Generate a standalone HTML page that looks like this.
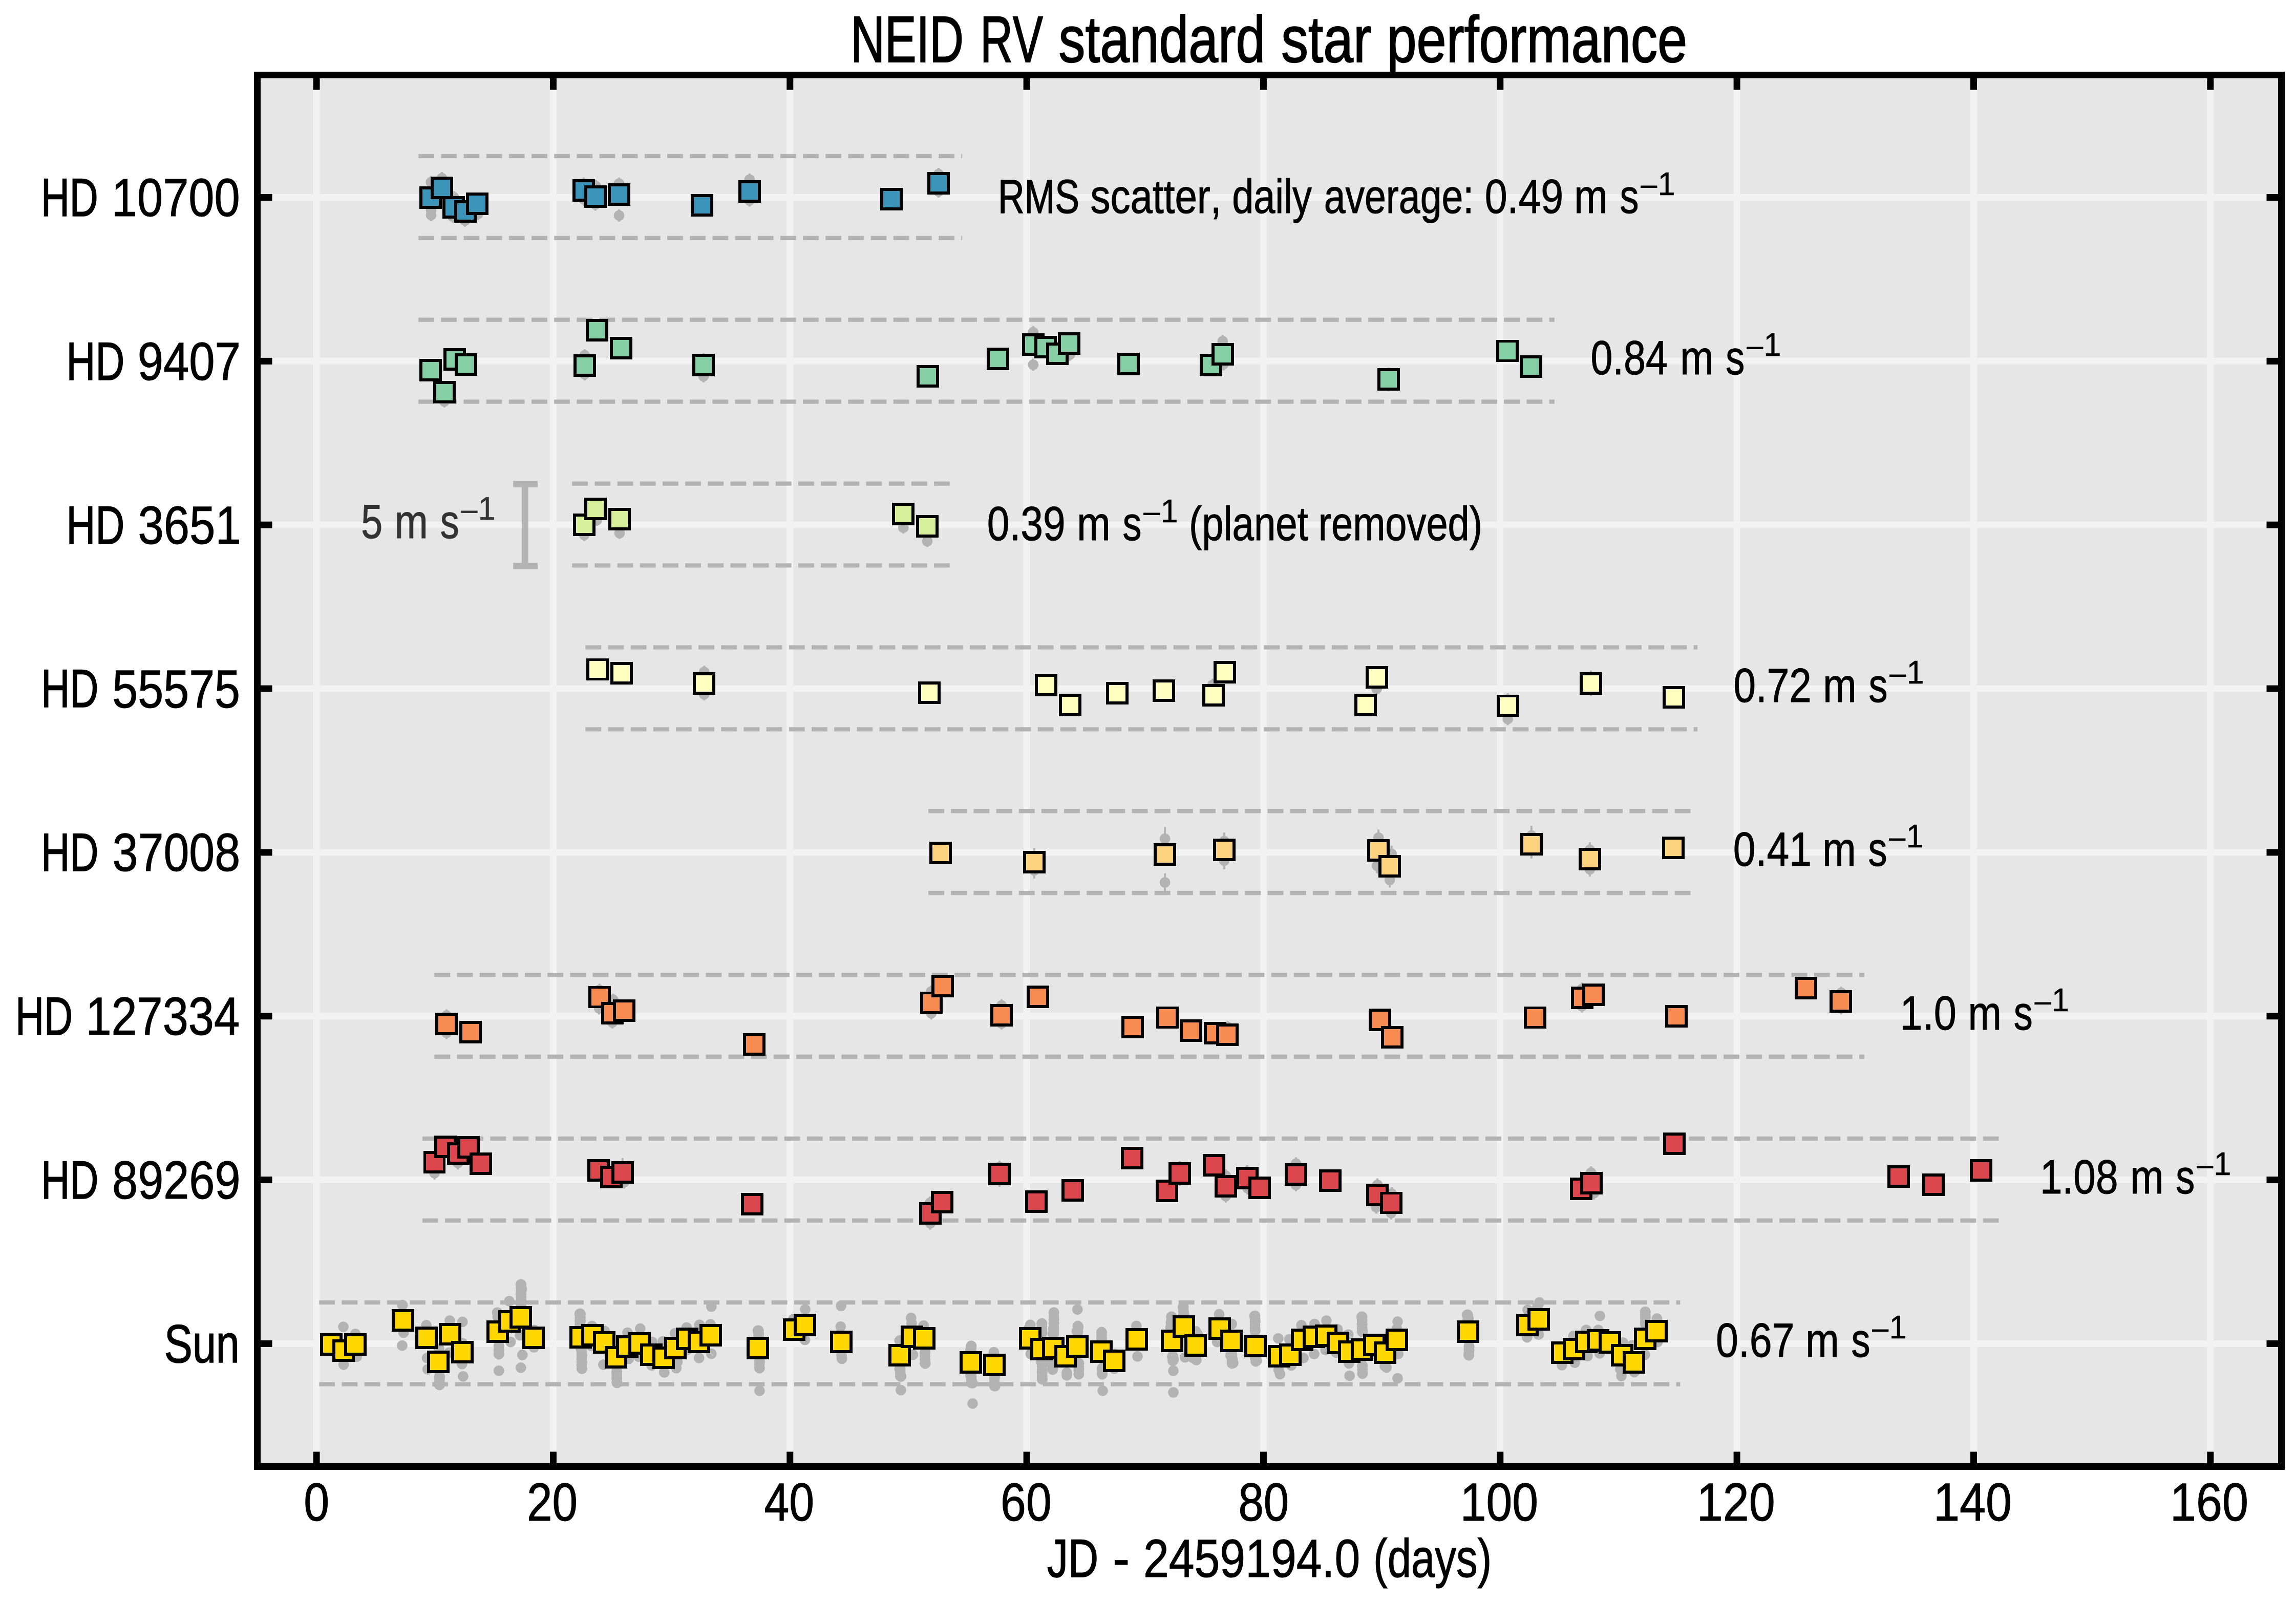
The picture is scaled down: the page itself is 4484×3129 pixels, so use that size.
<!DOCTYPE html><html><head><meta charset="utf-8"><title>NEID RV standard star performance</title><style>html,body{margin:0;padding:0;background:#fff}svg{display:block}</style></head><body><svg width="4484" height="3129" viewBox="0 0 4484 3129" font-family='"Liberation Sans", sans-serif' style="font-kerning:none" text-rendering="geometricPrecision">
<rect x="0" y="0" width="4484" height="3129" fill="#fff"/>
<rect x="502.5" y="146.5" width="3953.0" height="2718.0" fill="#e6e6e6"/>
<g stroke="#f2f2f2" stroke-width="13"><line x1="618.08" y1="146.5" x2="618.08" y2="2864.5"/><line x1="1080.42" y1="146.5" x2="1080.42" y2="2864.5"/><line x1="1542.76" y1="146.5" x2="1542.76" y2="2864.5"/><line x1="2005.10" y1="146.5" x2="2005.10" y2="2864.5"/><line x1="2467.44" y1="146.5" x2="2467.44" y2="2864.5"/><line x1="2929.78" y1="146.5" x2="2929.78" y2="2864.5"/><line x1="3392.12" y1="146.5" x2="3392.12" y2="2864.5"/><line x1="3854.46" y1="146.5" x2="3854.46" y2="2864.5"/><line x1="4316.80" y1="146.5" x2="4316.80" y2="2864.5"/><line x1="502.5" y1="2624.40" x2="4455.5" y2="2624.40"/><line x1="502.5" y1="2304.56" x2="4455.5" y2="2304.56"/><line x1="502.5" y1="1984.72" x2="4455.5" y2="1984.72"/><line x1="502.5" y1="1664.88" x2="4455.5" y2="1664.88"/><line x1="502.5" y1="1345.04" x2="4455.5" y2="1345.04"/><line x1="502.5" y1="1025.20" x2="4455.5" y2="1025.20"/><line x1="502.5" y1="705.36" x2="4455.5" y2="705.36"/><line x1="502.5" y1="385.52" x2="4455.5" y2="385.52"/></g>
<g stroke="#b3b3b3" stroke-width="8.33" stroke-dasharray="30.83 13.34" fill="none"><line x1="623.3" y1="2543.8" x2="3281.3" y2="2543.8"/><line x1="623.3" y1="2703.6" x2="3281.3" y2="2703.6"/><line x1="824.9" y1="2223.9" x2="3915.0" y2="2223.9"/><line x1="824.9" y1="2383.8" x2="3915.0" y2="2383.8"/><line x1="848.4" y1="1904.1" x2="3641.0" y2="1904.1"/><line x1="848.4" y1="2064.0" x2="3641.0" y2="2064.0"/><line x1="1813.1" y1="1584.2" x2="3314.1" y2="1584.2"/><line x1="1813.1" y1="1744.1" x2="3314.1" y2="1744.1"/><line x1="1143.3" y1="1264.4" x2="3315.1" y2="1264.4"/><line x1="1143.3" y1="1424.3" x2="3315.1" y2="1424.3"/><line x1="1117.3" y1="944.6" x2="1857.1" y2="944.6"/><line x1="1117.3" y1="1104.4" x2="1857.1" y2="1104.4"/><line x1="817.1" y1="624.7" x2="3035.8" y2="624.7"/><line x1="817.1" y1="784.6" x2="3035.8" y2="784.6"/><line x1="817.2" y1="304.9" x2="1879.2" y2="304.9"/><line x1="817.2" y1="464.8" x2="1879.2" y2="464.8"/></g>
<g fill="#b3b3b3" stroke="#b3b3b3" stroke-width="4"><line x1="841.7" y1="343.8" x2="841.7" y2="367.8"/><circle cx="841.7" cy="355.8" r="10.4" stroke="none"/><line x1="863.0" y1="336.0" x2="863.0" y2="360.0"/><circle cx="863.0" cy="348.0" r="10.4" stroke="none"/><line x1="842.0" y1="399.0" x2="842.0" y2="423.0"/><circle cx="842.0" cy="411.0" r="10.4" stroke="none"/><line x1="842.0" y1="408.2" x2="842.0" y2="432.2"/><circle cx="842.0" cy="420.2" r="10.4" stroke="none"/><line x1="886.2" y1="373.2" x2="886.2" y2="397.2"/><circle cx="886.2" cy="385.2" r="10.4" stroke="none"/><line x1="884.5" y1="411.5" x2="884.5" y2="435.5"/><circle cx="884.5" cy="423.5" r="10.4" stroke="none"/><line x1="908.0" y1="419.0" x2="908.0" y2="443.0"/><circle cx="908.0" cy="431.0" r="10.4" stroke="none"/><line x1="934.0" y1="405.6" x2="934.0" y2="429.6"/><circle cx="934.0" cy="417.6" r="10.4" stroke="none"/><line x1="1140.0" y1="346.6" x2="1140.0" y2="370.6"/><circle cx="1140.0" cy="358.6" r="10.4" stroke="none"/><line x1="1140.0" y1="377.6" x2="1140.0" y2="401.6"/><circle cx="1140.0" cy="389.6" r="10.4" stroke="none"/><line x1="1164.0" y1="352.0" x2="1164.0" y2="376.0"/><circle cx="1164.0" cy="364.0" r="10.4" stroke="none"/><line x1="1162.7" y1="387.4" x2="1162.7" y2="411.4"/><circle cx="1162.7" cy="399.4" r="10.4" stroke="none"/><line x1="1209.0" y1="346.6" x2="1209.0" y2="370.6"/><circle cx="1209.0" cy="358.6" r="10.4" stroke="none"/><line x1="1209.0" y1="409.0" x2="1209.0" y2="433.0"/><circle cx="1209.0" cy="421.0" r="10.4" stroke="none"/><line x1="1370.9" y1="380.0" x2="1370.9" y2="404.0"/><circle cx="1370.9" cy="392.0" r="10.4" stroke="none"/><line x1="1463.8" y1="338.8" x2="1463.8" y2="362.8"/><circle cx="1463.8" cy="350.8" r="10.4" stroke="none"/><line x1="1463.8" y1="379.5" x2="1463.8" y2="403.5"/><circle cx="1463.8" cy="391.5" r="10.4" stroke="none"/><line x1="1833.0" y1="328.0" x2="1833.0" y2="352.0"/><circle cx="1833.0" cy="340.0" r="10.4" stroke="none"/><line x1="1833.0" y1="362.0" x2="1833.0" y2="386.0"/><circle cx="1833.0" cy="374.0" r="10.4" stroke="none"/><line x1="1740.9" y1="377.0" x2="1740.9" y2="401.0"/><circle cx="1740.9" cy="389.0" r="10.4" stroke="none"/><line x1="1141.8" y1="682.0" x2="1141.8" y2="706.0"/><circle cx="1141.8" cy="694.0" r="10.4" stroke="none"/><line x1="1141.8" y1="719.0" x2="1141.8" y2="743.0"/><circle cx="1141.8" cy="731.0" r="10.4" stroke="none"/><line x1="1373.9" y1="689.0" x2="1373.9" y2="713.0"/><circle cx="1373.9" cy="701.0" r="10.4" stroke="none"/><line x1="1373.9" y1="722.8" x2="1373.9" y2="746.8"/><circle cx="1373.9" cy="734.8" r="10.4" stroke="none"/><line x1="867.8" y1="771.8" x2="867.8" y2="795.8"/><circle cx="867.8" cy="783.8" r="10.4" stroke="none"/><line x1="2017.9" y1="636.8" x2="2017.9" y2="660.8"/><circle cx="2017.9" cy="648.8" r="10.4" stroke="none"/><line x1="2017.9" y1="700.3" x2="2017.9" y2="724.3"/><circle cx="2017.9" cy="712.3" r="10.4" stroke="none"/><line x1="2089.6" y1="680.7" x2="2089.6" y2="704.7"/><circle cx="2089.6" cy="692.7" r="10.4" stroke="none"/><line x1="2387.9" y1="654.4" x2="2387.9" y2="678.4"/><circle cx="2387.9" cy="666.4" r="10.4" stroke="none"/><line x1="2389.5" y1="699.5" x2="2389.5" y2="723.5"/><circle cx="2389.5" cy="711.5" r="10.4" stroke="none"/><line x1="2711.7" y1="717.9" x2="2711.7" y2="763.9"/><circle cx="2711.7" cy="740.9" r="10.4" stroke="none"/><line x1="2989.6" y1="714.0" x2="2989.6" y2="738.0"/><circle cx="2989.6" cy="726.0" r="10.4" stroke="none"/><line x1="840.8" y1="710.9" x2="840.8" y2="734.9"/><circle cx="840.8" cy="722.9" r="10.4" stroke="none"/><line x1="1165.7" y1="632.9" x2="1165.7" y2="656.9"/><circle cx="1165.7" cy="644.9" r="10.4" stroke="none"/><line x1="1165.7" y1="1004.3" x2="1165.7" y2="1027.3"/><circle cx="1165.7" cy="1015.8" r="10.4" stroke="none"/><line x1="1210.0" y1="1029.8" x2="1210.0" y2="1052.8"/><circle cx="1210.0" cy="1041.3" r="10.4" stroke="none"/><line x1="1141.0" y1="1033.5" x2="1141.0" y2="1056.5"/><circle cx="1141.0" cy="1045.0" r="10.4" stroke="none"/><line x1="1764.2" y1="1019.2" x2="1764.2" y2="1042.2"/><circle cx="1764.2" cy="1030.7" r="10.4" stroke="none"/><line x1="1810.9" y1="1045.5" x2="1810.9" y2="1068.5"/><circle cx="1810.9" cy="1057.0" r="10.4" stroke="none"/><line x1="1162.9" y1="978.5" x2="1162.9" y2="1001.5"/><circle cx="1162.9" cy="990.0" r="10.4" stroke="none"/><line x1="1375.2" y1="1300.3" x2="1375.2" y2="1324.3"/><circle cx="1375.2" cy="1312.3" r="10.4" stroke="none"/><line x1="1375.2" y1="1344.2" x2="1375.2" y2="1368.2"/><circle cx="1375.2" cy="1356.2" r="10.4" stroke="none"/><line x1="2368.0" y1="1325.8" x2="2368.0" y2="1349.8"/><circle cx="2368.0" cy="1337.8" r="10.4" stroke="none"/><line x1="2688.7" y1="1333.6" x2="2688.7" y2="1357.6"/><circle cx="2688.7" cy="1345.6" r="10.4" stroke="none"/><line x1="2944.7" y1="1392.4" x2="2944.7" y2="1416.4"/><circle cx="2944.7" cy="1404.4" r="10.4" stroke="none"/><line x1="2944.7" y1="1354.0" x2="2944.7" y2="1378.0"/><circle cx="2944.7" cy="1366.0" r="10.4" stroke="none"/><line x1="3107.0" y1="1309.7" x2="3107.0" y2="1359.7"/><circle cx="3107.0" cy="1334.7" r="10.4" stroke="none"/><line x1="2666.8" y1="1356.0" x2="2666.8" y2="1380.0"/><circle cx="2666.8" cy="1368.0" r="10.4" stroke="none"/><line x1="2275.1" y1="1615.5" x2="2275.1" y2="1660.9"/><circle cx="2275.1" cy="1638.2" r="10.4" stroke="none"/><line x1="2275.1" y1="1705.6" x2="2275.1" y2="1741.6"/><circle cx="2275.1" cy="1723.6" r="10.4" stroke="none"/><line x1="2019.9" y1="1656.0" x2="2019.9" y2="1688.0"/><circle cx="2019.9" cy="1672.0" r="10.4" stroke="none"/><line x1="2019.9" y1="1684.0" x2="2019.9" y2="1716.0"/><circle cx="2019.9" cy="1700.0" r="10.4" stroke="none"/><line x1="2390.7" y1="1626.0" x2="2390.7" y2="1660.0"/><circle cx="2390.7" cy="1643.0" r="10.4" stroke="none"/><line x1="2390.7" y1="1664.0" x2="2390.7" y2="1698.0"/><circle cx="2390.7" cy="1681.0" r="10.4" stroke="none"/><line x1="2692.1" y1="1620.2" x2="2692.1" y2="1652.2"/><circle cx="2692.1" cy="1636.2" r="10.4" stroke="none"/><line x1="2689.4" y1="1676.1" x2="2689.4" y2="1706.1"/><circle cx="2689.4" cy="1691.1" r="10.4" stroke="none"/><line x1="2717.6" y1="1651.6" x2="2717.6" y2="1683.6"/><circle cx="2717.6" cy="1667.6" r="10.4" stroke="none"/><line x1="2714.1" y1="1703.6" x2="2714.1" y2="1733.6"/><circle cx="2714.1" cy="1718.6" r="10.4" stroke="none"/><line x1="2990.8" y1="1613.0" x2="2990.8" y2="1651.0"/><circle cx="2990.8" cy="1632.0" r="10.4" stroke="none"/><line x1="2990.8" y1="1643.0" x2="2990.8" y2="1677.0"/><circle cx="2990.8" cy="1660.0" r="10.4" stroke="none"/><line x1="3104.9" y1="1645.0" x2="3104.9" y2="1675.0"/><circle cx="3104.9" cy="1660.0" r="10.4" stroke="none"/><line x1="3104.9" y1="1684.0" x2="3104.9" y2="1712.0"/><circle cx="3104.9" cy="1698.0" r="10.4" stroke="none"/><line x1="872.1" y1="1971.5" x2="872.1" y2="1995.5"/><circle cx="872.1" cy="1983.5" r="10.4" stroke="none"/><line x1="872.1" y1="2005.5" x2="872.1" y2="2029.5"/><circle cx="872.1" cy="2017.5" r="10.4" stroke="none"/><line x1="1170.8" y1="1921.3" x2="1170.8" y2="1945.3"/><circle cx="1170.8" cy="1933.3" r="10.4" stroke="none"/><line x1="1170.0" y1="1957.4" x2="1170.0" y2="1981.4"/><circle cx="1170.0" cy="1969.4" r="10.4" stroke="none"/><line x1="1197.5" y1="1940.9" x2="1197.5" y2="1964.9"/><circle cx="1197.5" cy="1952.9" r="10.4" stroke="none"/><line x1="1195.9" y1="1984.8" x2="1195.9" y2="2008.8"/><circle cx="1195.9" cy="1996.8" r="10.4" stroke="none"/><line x1="1818.0" y1="1925.2" x2="1818.0" y2="1949.2"/><circle cx="1818.0" cy="1937.2" r="10.4" stroke="none"/><line x1="1818.8" y1="1967.2" x2="1818.8" y2="1991.2"/><circle cx="1818.8" cy="1979.2" r="10.4" stroke="none"/><line x1="1956.0" y1="1951.9" x2="1956.0" y2="1975.9"/><circle cx="1956.0" cy="1963.9" r="10.4" stroke="none"/><line x1="1956.0" y1="1986.8" x2="1956.0" y2="2010.8"/><circle cx="1956.0" cy="1998.8" r="10.4" stroke="none"/><line x1="2397.3" y1="1993.8" x2="2397.3" y2="2017.8"/><circle cx="2397.3" cy="2005.8" r="10.4" stroke="none"/><line x1="3089.6" y1="1919.3" x2="3089.6" y2="1943.3"/><circle cx="3089.6" cy="1931.3" r="10.4" stroke="none"/><line x1="3089.6" y1="1953.5" x2="3089.6" y2="1977.5"/><circle cx="3089.6" cy="1965.5" r="10.4" stroke="none"/><line x1="3595.6" y1="1927.2" x2="3595.6" y2="1951.2"/><circle cx="3595.6" cy="1939.2" r="10.4" stroke="none"/><line x1="3595.6" y1="1957.4" x2="3595.6" y2="1981.4"/><circle cx="3595.6" cy="1969.4" r="10.4" stroke="none"/><line x1="2026.9" y1="1944.0" x2="2026.9" y2="1968.0"/><circle cx="2026.9" cy="1956.0" r="10.4" stroke="none"/><line x1="848.6" y1="2278.8" x2="848.6" y2="2303.8"/><circle cx="848.6" cy="2291.3" r="10.4" stroke="none"/><line x1="894.1" y1="2259.2" x2="894.1" y2="2284.2"/><circle cx="894.1" cy="2271.7" r="10.4" stroke="none"/><line x1="1215.9" y1="2262.0" x2="1215.9" y2="2298.0"/><circle cx="1215.9" cy="2280.0" r="10.4" stroke="none"/><line x1="1219.0" y1="2296.5" x2="1219.0" y2="2321.5"/><circle cx="1219.0" cy="2309.0" r="10.4" stroke="none"/><line x1="1816.0" y1="2337.0" x2="1816.0" y2="2362.0"/><circle cx="1816.0" cy="2349.5" r="10.4" stroke="none"/><line x1="1816.8" y1="2376.8" x2="1816.8" y2="2401.8"/><circle cx="1816.8" cy="2389.3" r="10.4" stroke="none"/><line x1="1952.0" y1="2267.0" x2="1952.0" y2="2292.0"/><circle cx="1952.0" cy="2279.5" r="10.4" stroke="none"/><line x1="1952.0" y1="2293.0" x2="1952.0" y2="2318.0"/><circle cx="1952.0" cy="2305.5" r="10.4" stroke="none"/><line x1="2304.0" y1="2268.0" x2="2304.0" y2="2293.0"/><circle cx="2304.0" cy="2280.5" r="10.4" stroke="none"/><line x1="2304.0" y1="2291.0" x2="2304.0" y2="2316.0"/><circle cx="2304.0" cy="2303.5" r="10.4" stroke="none"/><line x1="2393.8" y1="2284.0" x2="2393.8" y2="2309.0"/><circle cx="2393.8" cy="2296.5" r="10.4" stroke="none"/><line x1="2393.8" y1="2324.0" x2="2393.8" y2="2349.0"/><circle cx="2393.8" cy="2336.5" r="10.4" stroke="none"/><line x1="2436.0" y1="2276.0" x2="2436.0" y2="2301.0"/><circle cx="2436.0" cy="2288.5" r="10.4" stroke="none"/><line x1="2436.0" y1="2308.0" x2="2436.0" y2="2333.0"/><circle cx="2436.0" cy="2320.5" r="10.4" stroke="none"/><line x1="2531.0" y1="2260.4" x2="2531.0" y2="2285.4"/><circle cx="2531.0" cy="2272.9" r="10.4" stroke="none"/><line x1="2531.0" y1="2302.0" x2="2531.0" y2="2327.0"/><circle cx="2531.0" cy="2314.5" r="10.4" stroke="none"/><line x1="2690.1" y1="2301.6" x2="2690.1" y2="2326.6"/><circle cx="2690.1" cy="2314.1" r="10.4" stroke="none"/><line x1="2687.8" y1="2345.5" x2="2687.8" y2="2370.5"/><circle cx="2687.8" cy="2358.0" r="10.4" stroke="none"/><line x1="2717.9" y1="2319.0" x2="2717.9" y2="2344.0"/><circle cx="2717.9" cy="2331.5" r="10.4" stroke="none"/><line x1="2716.8" y1="2357.0" x2="2716.8" y2="2382.0"/><circle cx="2716.8" cy="2369.5" r="10.4" stroke="none"/><line x1="3107.2" y1="2278.0" x2="3107.2" y2="2303.0"/><circle cx="3107.2" cy="2290.5" r="10.4" stroke="none"/><line x1="3113.0" y1="2318.0" x2="3113.0" y2="2343.0"/><circle cx="3113.0" cy="2330.5" r="10.4" stroke="none"/><line x1="3269.8" y1="2214.0" x2="3269.8" y2="2239.0"/><circle cx="3269.8" cy="2226.5" r="10.4" stroke="none"/><line x1="3269.8" y1="2231.0" x2="3269.8" y2="2256.0"/><circle cx="3269.8" cy="2243.5" r="10.4" stroke="none"/><circle cx="670.6" cy="2591.6" r="10.4" stroke="none"/><circle cx="694.1" cy="2605.4" r="10.4" stroke="none"/><circle cx="671.1" cy="2665.5" r="10.4" stroke="none"/><circle cx="696.7" cy="2649.9" r="10.4" stroke="none"/><circle cx="786.1" cy="2549.2" r="10.4" stroke="none"/><circle cx="788.2" cy="2602.8" r="10.4" stroke="none"/><circle cx="785.5" cy="2628.2" r="10.4" stroke="none"/><circle cx="832.6" cy="2588.4" r="10.4" stroke="none"/><circle cx="878.3" cy="2579.3" r="10.4" stroke="none"/><circle cx="903.1" cy="2581.9" r="10.4" stroke="none"/><circle cx="833.9" cy="2652.5" r="10.4" stroke="none"/><circle cx="835.2" cy="2674.7" r="10.4" stroke="none"/><circle cx="857.4" cy="2634.2" r="10.4" stroke="none"/><circle cx="858.7" cy="2689.1" r="10.4" stroke="none"/><circle cx="858.2" cy="2704.7" r="10.4" stroke="none"/><circle cx="903.1" cy="2623.7" r="10.4" stroke="none"/><circle cx="902.3" cy="2664.2" r="10.4" stroke="none"/><circle cx="904.4" cy="2688.3" r="10.4" stroke="none"/><circle cx="877.0" cy="2642.0" r="10.4" stroke="none"/><circle cx="971.1" cy="2563.6" r="10.4" stroke="none"/><circle cx="972.0" cy="2572.0" r="10.4" stroke="none"/><circle cx="974.2" cy="2629.0" r="10.4" stroke="none"/><circle cx="974.2" cy="2644.1" r="10.4" stroke="none"/><circle cx="974.2" cy="2677.3" r="10.4" stroke="none"/><circle cx="994.6" cy="2541.4" r="10.4" stroke="none"/><circle cx="997.2" cy="2621.1" r="10.4" stroke="none"/><circle cx="1017.3" cy="2508.7" r="10.4" stroke="none"/><circle cx="1018.9" cy="2517.9" r="10.4" stroke="none"/><circle cx="1017.3" cy="2527.6" r="10.4" stroke="none"/><circle cx="1017.3" cy="2545.3" r="10.4" stroke="none"/><circle cx="1015.5" cy="2608.0" r="10.4" stroke="none"/><circle cx="1020.2" cy="2646.5" r="10.4" stroke="none"/><circle cx="1017.3" cy="2671.3" r="10.4" stroke="none"/><circle cx="1042.9" cy="2597.6" r="10.4" stroke="none"/><circle cx="1042.9" cy="2631.6" r="10.4" stroke="none"/><circle cx="1132.1" cy="2566.2" r="10.4" stroke="none"/><circle cx="1132.7" cy="2579.3" r="10.4" stroke="none"/><circle cx="1133.5" cy="2592.0" r="10.4" stroke="none"/><circle cx="1134.5" cy="2634.0" r="10.4" stroke="none"/><circle cx="1136.6" cy="2647.2" r="10.4" stroke="none"/><circle cx="1136.6" cy="2660.3" r="10.4" stroke="none"/><circle cx="1136.6" cy="2673.4" r="10.4" stroke="none"/><circle cx="1156.2" cy="2589.8" r="10.4" stroke="none"/><circle cx="1154.9" cy="2629.0" r="10.4" stroke="none"/><circle cx="1181.0" cy="2600.2" r="10.4" stroke="none"/><circle cx="1178.4" cy="2665.5" r="10.4" stroke="none"/><circle cx="1204.5" cy="2681.2" r="10.4" stroke="none"/><circle cx="1204.5" cy="2691.7" r="10.4" stroke="none"/><circle cx="1205.1" cy="2700.8" r="10.4" stroke="none"/><circle cx="1225.4" cy="2602.8" r="10.4" stroke="none"/><circle cx="1228.0" cy="2653.8" r="10.4" stroke="none"/><circle cx="1250.3" cy="2595.0" r="10.4" stroke="none"/><circle cx="1247.6" cy="2649.9" r="10.4" stroke="none"/><circle cx="1273.8" cy="2621.1" r="10.4" stroke="none"/><circle cx="1272.5" cy="2666.8" r="10.4" stroke="none"/><circle cx="1294.7" cy="2619.8" r="10.4" stroke="none"/><circle cx="1297.3" cy="2680.7" r="10.4" stroke="none"/><circle cx="1318.2" cy="2604.1" r="10.4" stroke="none"/><circle cx="1320.8" cy="2672.1" r="10.4" stroke="none"/><circle cx="1323.0" cy="2660.0" r="10.4" stroke="none"/><circle cx="1340.9" cy="2592.9" r="10.4" stroke="none"/><circle cx="1341.7" cy="2636.8" r="10.4" stroke="none"/><circle cx="1366.0" cy="2587.7" r="10.4" stroke="none"/><circle cx="1365.2" cy="2652.5" r="10.4" stroke="none"/><circle cx="1387.5" cy="2586.6" r="10.4" stroke="none"/><circle cx="1389.3" cy="2551.9" r="10.4" stroke="none"/><circle cx="1389.3" cy="2644.1" r="10.4" stroke="none"/><circle cx="1480.2" cy="2598.9" r="10.4" stroke="none"/><circle cx="1481.5" cy="2606.0" r="10.4" stroke="none"/><circle cx="1483.4" cy="2660.3" r="10.4" stroke="none"/><circle cx="1483.4" cy="2672.1" r="10.4" stroke="none"/><circle cx="1483.4" cy="2716.5" r="10.4" stroke="none"/><circle cx="1549.5" cy="2576.7" r="10.4" stroke="none"/><circle cx="1572.5" cy="2557.6" r="10.4" stroke="none"/><circle cx="1572.0" cy="2617.2" r="10.4" stroke="none"/><circle cx="1642.5" cy="2550.6" r="10.4" stroke="none"/><circle cx="1641.7" cy="2591.1" r="10.4" stroke="none"/><circle cx="1643.5" cy="2647.2" r="10.4" stroke="none"/><circle cx="1644.3" cy="2653.8" r="10.4" stroke="none"/><circle cx="1779.3" cy="2574.1" r="10.4" stroke="none"/><circle cx="1780.3" cy="2584.5" r="10.4" stroke="none"/><circle cx="1803.8" cy="2589.2" r="10.4" stroke="none"/><circle cx="1756.8" cy="2618.5" r="10.4" stroke="none"/><circle cx="1782.9" cy="2645.9" r="10.4" stroke="none"/><circle cx="1806.4" cy="2643.3" r="10.4" stroke="none"/><circle cx="1807.2" cy="2662.9" r="10.4" stroke="none"/><circle cx="1756.8" cy="2673.4" r="10.4" stroke="none"/><circle cx="1759.9" cy="2688.5" r="10.4" stroke="none"/><circle cx="1759.4" cy="2715.2" r="10.4" stroke="none"/><circle cx="1897.1" cy="2629.0" r="10.4" stroke="none"/><circle cx="1895.3" cy="2636.8" r="10.4" stroke="none"/><circle cx="1895.3" cy="2686.4" r="10.4" stroke="none"/><circle cx="1899.2" cy="2701.6" r="10.4" stroke="none"/><circle cx="1899.5" cy="2741.3" r="10.4" stroke="none"/><circle cx="1941.0" cy="2641.2" r="10.4" stroke="none"/><circle cx="1942.9" cy="2689.1" r="10.4" stroke="none"/><circle cx="1943.4" cy="2707.3" r="10.4" stroke="none"/><circle cx="2012.1" cy="2587.7" r="10.4" stroke="none"/><circle cx="2009.0" cy="2595.0" r="10.4" stroke="none"/><circle cx="2012.9" cy="2644.6" r="10.4" stroke="none"/><circle cx="2034.6" cy="2585.1" r="10.4" stroke="none"/><circle cx="2035.1" cy="2602.8" r="10.4" stroke="none"/><circle cx="2033.8" cy="2660.3" r="10.4" stroke="none"/><circle cx="2035.1" cy="2679.9" r="10.4" stroke="none"/><circle cx="2035.6" cy="2693.8" r="10.4" stroke="none"/><circle cx="2058.1" cy="2563.6" r="10.4" stroke="none"/><circle cx="2058.1" cy="2576.7" r="10.4" stroke="none"/><circle cx="2058.1" cy="2584.5" r="10.4" stroke="none"/><circle cx="2057.3" cy="2595.0" r="10.4" stroke="none"/><circle cx="2056.0" cy="2605.4" r="10.4" stroke="none"/><circle cx="2056.0" cy="2674.7" r="10.4" stroke="none"/><circle cx="2054.7" cy="2662.9" r="10.4" stroke="none"/><circle cx="2104.3" cy="2557.6" r="10.4" stroke="none"/><circle cx="2105.7" cy="2591.6" r="10.4" stroke="none"/><circle cx="2103.1" cy="2600.2" r="10.4" stroke="none"/><circle cx="2083.4" cy="2681.2" r="10.4" stroke="none"/><circle cx="2083.4" cy="2686.4" r="10.4" stroke="none"/><circle cx="2107.0" cy="2662.9" r="10.4" stroke="none"/><circle cx="2107.0" cy="2673.4" r="10.4" stroke="none"/><circle cx="2107.0" cy="2683.8" r="10.4" stroke="none"/><circle cx="2151.4" cy="2602.8" r="10.4" stroke="none"/><circle cx="2151.4" cy="2613.3" r="10.4" stroke="none"/><circle cx="2152.7" cy="2673.4" r="10.4" stroke="none"/><circle cx="2152.7" cy="2683.8" r="10.4" stroke="none"/><circle cx="2153.5" cy="2716.5" r="10.4" stroke="none"/><circle cx="2176.2" cy="2644.6" r="10.4" stroke="none"/><circle cx="2176.2" cy="2673.4" r="10.4" stroke="none"/><circle cx="2219.4" cy="2589.8" r="10.4" stroke="none"/><circle cx="2221.5" cy="2649.3" r="10.4" stroke="none"/><circle cx="2288.2" cy="2572.0" r="10.4" stroke="none"/><circle cx="2286.9" cy="2583.2" r="10.4" stroke="none"/><circle cx="2286.1" cy="2592.4" r="10.4" stroke="none"/><circle cx="2289.5" cy="2649.9" r="10.4" stroke="none"/><circle cx="2292.1" cy="2655.1" r="10.4" stroke="none"/><circle cx="2291.5" cy="2677.3" r="10.4" stroke="none"/><circle cx="2291.5" cy="2719.6" r="10.4" stroke="none"/><circle cx="2310.4" cy="2553.2" r="10.4" stroke="none"/><circle cx="2311.1" cy="2561.0" r="10.4" stroke="none"/><circle cx="2312.2" cy="2566.2" r="10.4" stroke="none"/><circle cx="2314.3" cy="2651.2" r="10.4" stroke="none"/><circle cx="2335.2" cy="2600.2" r="10.4" stroke="none"/><circle cx="2339.1" cy="2606.7" r="10.4" stroke="none"/><circle cx="2336.5" cy="2656.4" r="10.4" stroke="none"/><circle cx="2330.0" cy="2652.5" r="10.4" stroke="none"/><circle cx="2380.9" cy="2567.0" r="10.4" stroke="none"/><circle cx="2405.7" cy="2585.8" r="10.4" stroke="none"/><circle cx="2377.0" cy="2621.1" r="10.4" stroke="none"/><circle cx="2403.1" cy="2647.2" r="10.4" stroke="none"/><circle cx="2407.0" cy="2655.1" r="10.4" stroke="none"/><circle cx="2408.4" cy="2662.1" r="10.4" stroke="none"/><circle cx="2450.2" cy="2570.2" r="10.4" stroke="none"/><circle cx="2451.5" cy="2580.6" r="10.4" stroke="none"/><circle cx="2451.5" cy="2598.9" r="10.4" stroke="none"/><circle cx="2451.5" cy="2652.5" r="10.4" stroke="none"/><circle cx="2454.1" cy="2657.7" r="10.4" stroke="none"/><circle cx="2496.4" cy="2614.1" r="10.4" stroke="none"/><circle cx="2499.8" cy="2683.8" r="10.4" stroke="none"/><circle cx="2497.2" cy="2676.0" r="10.4" stroke="none"/><circle cx="2518.1" cy="2615.9" r="10.4" stroke="none"/><circle cx="2522.0" cy="2666.8" r="10.4" stroke="none"/><circle cx="2541.6" cy="2588.4" r="10.4" stroke="none"/><circle cx="2545.6" cy="2652.5" r="10.4" stroke="none"/><circle cx="2567.2" cy="2585.8" r="10.4" stroke="none"/><circle cx="2566.5" cy="2644.6" r="10.4" stroke="none"/><circle cx="2590.5" cy="2579.3" r="10.4" stroke="none"/><circle cx="2588.7" cy="2636.8" r="10.4" stroke="none"/><circle cx="2612.2" cy="2596.3" r="10.4" stroke="none"/><circle cx="2609.6" cy="2642.0" r="10.4" stroke="none"/><circle cx="2633.1" cy="2606.7" r="10.4" stroke="none"/><circle cx="2634.4" cy="2662.9" r="10.4" stroke="none"/><circle cx="2635.7" cy="2687.2" r="10.4" stroke="none"/><circle cx="2659.2" cy="2572.0" r="10.4" stroke="none"/><circle cx="2660.0" cy="2586.4" r="10.4" stroke="none"/><circle cx="2661.3" cy="2600.7" r="10.4" stroke="none"/><circle cx="2660.5" cy="2668.2" r="10.4" stroke="none"/><circle cx="2661.3" cy="2682.0" r="10.4" stroke="none"/><circle cx="2729.4" cy="2581.4" r="10.4" stroke="none"/><circle cx="2728.0" cy="2595.0" r="10.4" stroke="none"/><circle cx="2730.7" cy="2644.6" r="10.4" stroke="none"/><circle cx="2729.4" cy="2692.2" r="10.4" stroke="none"/><circle cx="2704.5" cy="2668.2" r="10.4" stroke="none"/><circle cx="2707.7" cy="2670.8" r="10.4" stroke="none"/><circle cx="2865.2" cy="2568.1" r="10.4" stroke="none"/><circle cx="2867.9" cy="2575.4" r="10.4" stroke="none"/><circle cx="2869.2" cy="2630.3" r="10.4" stroke="none"/><circle cx="2869.2" cy="2636.8" r="10.4" stroke="none"/><circle cx="2868.4" cy="2646.7" r="10.4" stroke="none"/><circle cx="2983.4" cy="2558.4" r="10.4" stroke="none"/><circle cx="3006.4" cy="2544.0" r="10.4" stroke="none"/><circle cx="2982.3" cy="2612.0" r="10.4" stroke="none"/><circle cx="3005.0" cy="2606.7" r="10.4" stroke="none"/><circle cx="3002.4" cy="2553.2" r="10.4" stroke="none"/><circle cx="3124.5" cy="2570.2" r="10.4" stroke="none"/><circle cx="3097.8" cy="2597.6" r="10.4" stroke="none"/><circle cx="3121.3" cy="2597.6" r="10.4" stroke="none"/><circle cx="3073.0" cy="2609.4" r="10.4" stroke="none"/><circle cx="3050.3" cy="2666.3" r="10.4" stroke="none"/><circle cx="3075.6" cy="2661.6" r="10.4" stroke="none"/><circle cx="3100.4" cy="2648.6" r="10.4" stroke="none"/><circle cx="3124.0" cy="2643.3" r="10.4" stroke="none"/><circle cx="3169.7" cy="2622.4" r="10.4" stroke="none"/><circle cx="3166.6" cy="2687.7" r="10.4" stroke="none"/><circle cx="3164.5" cy="2674.7" r="10.4" stroke="none"/><circle cx="3191.9" cy="2679.9" r="10.4" stroke="none"/><circle cx="3187.5" cy="2627.6" r="10.4" stroke="none"/><circle cx="3213.2" cy="2562.3" r="10.4" stroke="none"/><circle cx="3213.2" cy="2571.5" r="10.4" stroke="none"/><circle cx="3213.2" cy="2584.5" r="10.4" stroke="none"/><circle cx="3212.4" cy="2645.9" r="10.4" stroke="none"/><circle cx="3235.9" cy="2575.4" r="10.4" stroke="none"/><circle cx="3237.2" cy="2621.1" r="10.4" stroke="none"/><circle cx="1132.6" cy="2568.0" r="10.4" stroke="none"/><circle cx="1132.6" cy="2574.4" r="10.4" stroke="none"/><circle cx="1132.6" cy="2580.8" r="10.4" stroke="none"/><circle cx="1132.6" cy="2587.2" r="10.4" stroke="none"/><circle cx="1132.6" cy="2593.6" r="10.4" stroke="none"/><circle cx="1132.6" cy="2600.0" r="10.4" stroke="none"/><circle cx="1136.0" cy="2634.0" r="10.4" stroke="none"/><circle cx="1136.0" cy="2640.5" r="10.4" stroke="none"/><circle cx="1136.0" cy="2647.0" r="10.4" stroke="none"/><circle cx="1136.0" cy="2653.5" r="10.4" stroke="none"/><circle cx="1136.0" cy="2660.0" r="10.4" stroke="none"/><circle cx="1136.0" cy="2666.5" r="10.4" stroke="none"/><circle cx="1136.0" cy="2673.0" r="10.4" stroke="none"/><circle cx="1204.6" cy="2672.0" r="10.4" stroke="none"/><circle cx="1204.6" cy="2679.0" r="10.4" stroke="none"/><circle cx="1204.6" cy="2686.0" r="10.4" stroke="none"/><circle cx="1204.6" cy="2693.0" r="10.4" stroke="none"/><circle cx="1204.6" cy="2700.0" r="10.4" stroke="none"/><circle cx="1481.5" cy="2599.0" r="10.4" stroke="none"/><circle cx="1481.5" cy="2604.7" r="10.4" stroke="none"/><circle cx="1481.5" cy="2610.3" r="10.4" stroke="none"/><circle cx="1481.5" cy="2616.0" r="10.4" stroke="none"/><circle cx="1483.2" cy="2650.0" r="10.4" stroke="none"/><circle cx="1483.2" cy="2657.3" r="10.4" stroke="none"/><circle cx="1483.2" cy="2664.7" r="10.4" stroke="none"/><circle cx="1483.2" cy="2672.0" r="10.4" stroke="none"/><circle cx="1758.3" cy="2662.0" r="10.4" stroke="none"/><circle cx="1758.3" cy="2668.5" r="10.4" stroke="none"/><circle cx="1758.3" cy="2675.0" r="10.4" stroke="none"/><circle cx="1758.3" cy="2681.5" r="10.4" stroke="none"/><circle cx="1758.3" cy="2688.0" r="10.4" stroke="none"/><circle cx="1806.5" cy="2641.0" r="10.4" stroke="none"/><circle cx="1806.5" cy="2648.3" r="10.4" stroke="none"/><circle cx="1806.5" cy="2655.7" r="10.4" stroke="none"/><circle cx="1806.5" cy="2663.0" r="10.4" stroke="none"/><circle cx="1896.5" cy="2629.0" r="10.4" stroke="none"/><circle cx="1896.5" cy="2634.5" r="10.4" stroke="none"/><circle cx="1896.5" cy="2640.0" r="10.4" stroke="none"/><circle cx="1897.0" cy="2682.0" r="10.4" stroke="none"/><circle cx="1897.0" cy="2688.3" r="10.4" stroke="none"/><circle cx="1897.0" cy="2694.7" r="10.4" stroke="none"/><circle cx="1897.0" cy="2701.0" r="10.4" stroke="none"/><circle cx="1942.0" cy="2686.0" r="10.4" stroke="none"/><circle cx="1942.0" cy="2693.0" r="10.4" stroke="none"/><circle cx="1942.0" cy="2700.0" r="10.4" stroke="none"/><circle cx="1942.0" cy="2707.0" r="10.4" stroke="none"/><circle cx="2035.3" cy="2657.0" r="10.4" stroke="none"/><circle cx="2035.3" cy="2663.2" r="10.4" stroke="none"/><circle cx="2035.3" cy="2669.3" r="10.4" stroke="none"/><circle cx="2035.3" cy="2675.5" r="10.4" stroke="none"/><circle cx="2035.3" cy="2681.7" r="10.4" stroke="none"/><circle cx="2035.3" cy="2687.8" r="10.4" stroke="none"/><circle cx="2035.3" cy="2694.0" r="10.4" stroke="none"/><circle cx="2034.8" cy="2585.0" r="10.4" stroke="none"/><circle cx="2034.8" cy="2591.3" r="10.4" stroke="none"/><circle cx="2034.8" cy="2597.7" r="10.4" stroke="none"/><circle cx="2034.8" cy="2604.0" r="10.4" stroke="none"/><circle cx="2058.0" cy="2564.0" r="10.4" stroke="none"/><circle cx="2058.0" cy="2571.0" r="10.4" stroke="none"/><circle cx="2058.0" cy="2578.0" r="10.4" stroke="none"/><circle cx="2058.0" cy="2585.0" r="10.4" stroke="none"/><circle cx="2058.0" cy="2592.0" r="10.4" stroke="none"/><circle cx="2058.0" cy="2599.0" r="10.4" stroke="none"/><circle cx="2058.0" cy="2606.0" r="10.4" stroke="none"/><circle cx="2055.5" cy="2660.0" r="10.4" stroke="none"/><circle cx="2055.5" cy="2667.5" r="10.4" stroke="none"/><circle cx="2055.5" cy="2675.0" r="10.4" stroke="none"/><circle cx="2106.8" cy="2663.0" r="10.4" stroke="none"/><circle cx="2106.8" cy="2670.0" r="10.4" stroke="none"/><circle cx="2106.8" cy="2677.0" r="10.4" stroke="none"/><circle cx="2106.8" cy="2684.0" r="10.4" stroke="none"/><circle cx="2105.0" cy="2590.0" r="10.4" stroke="none"/><circle cx="2105.0" cy="2596.0" r="10.4" stroke="none"/><circle cx="2105.0" cy="2602.0" r="10.4" stroke="none"/><circle cx="2152.5" cy="2672.0" r="10.4" stroke="none"/><circle cx="2152.5" cy="2678.0" r="10.4" stroke="none"/><circle cx="2152.5" cy="2684.0" r="10.4" stroke="none"/><circle cx="2151.4" cy="2602.0" r="10.4" stroke="none"/><circle cx="2151.4" cy="2608.0" r="10.4" stroke="none"/><circle cx="2151.4" cy="2614.0" r="10.4" stroke="none"/><circle cx="2287.5" cy="2572.0" r="10.4" stroke="none"/><circle cx="2287.5" cy="2579.3" r="10.4" stroke="none"/><circle cx="2287.5" cy="2586.7" r="10.4" stroke="none"/><circle cx="2287.5" cy="2594.0" r="10.4" stroke="none"/><circle cx="2290.5" cy="2648.0" r="10.4" stroke="none"/><circle cx="2290.5" cy="2653.0" r="10.4" stroke="none"/><circle cx="2290.5" cy="2658.0" r="10.4" stroke="none"/><circle cx="2311.2" cy="2553.0" r="10.4" stroke="none"/><circle cx="2311.2" cy="2560.5" r="10.4" stroke="none"/><circle cx="2311.2" cy="2568.0" r="10.4" stroke="none"/><circle cx="2406.0" cy="2646.0" r="10.4" stroke="none"/><circle cx="2406.0" cy="2651.7" r="10.4" stroke="none"/><circle cx="2406.0" cy="2657.3" r="10.4" stroke="none"/><circle cx="2406.0" cy="2663.0" r="10.4" stroke="none"/><circle cx="2451.0" cy="2570.0" r="10.4" stroke="none"/><circle cx="2451.0" cy="2576.0" r="10.4" stroke="none"/><circle cx="2451.0" cy="2582.0" r="10.4" stroke="none"/><circle cx="2451.0" cy="2588.0" r="10.4" stroke="none"/><circle cx="2451.0" cy="2594.0" r="10.4" stroke="none"/><circle cx="2451.0" cy="2600.0" r="10.4" stroke="none"/><circle cx="2452.5" cy="2651.0" r="10.4" stroke="none"/><circle cx="2452.5" cy="2659.0" r="10.4" stroke="none"/><circle cx="2660.2" cy="2572.0" r="10.4" stroke="none"/><circle cx="2660.2" cy="2579.2" r="10.4" stroke="none"/><circle cx="2660.2" cy="2586.5" r="10.4" stroke="none"/><circle cx="2660.2" cy="2593.8" r="10.4" stroke="none"/><circle cx="2660.2" cy="2601.0" r="10.4" stroke="none"/><circle cx="2660.8" cy="2667.0" r="10.4" stroke="none"/><circle cx="2660.8" cy="2675.0" r="10.4" stroke="none"/><circle cx="2660.8" cy="2683.0" r="10.4" stroke="none"/><circle cx="2868.8" cy="2629.0" r="10.4" stroke="none"/><circle cx="2868.8" cy="2635.0" r="10.4" stroke="none"/><circle cx="2868.8" cy="2641.0" r="10.4" stroke="none"/><circle cx="2868.8" cy="2647.0" r="10.4" stroke="none"/><circle cx="2866.5" cy="2568.0" r="10.4" stroke="none"/><circle cx="2866.5" cy="2577.0" r="10.4" stroke="none"/><circle cx="3213.2" cy="2562.0" r="10.4" stroke="none"/><circle cx="3213.2" cy="2568.0" r="10.4" stroke="none"/><circle cx="3213.2" cy="2574.0" r="10.4" stroke="none"/><circle cx="3213.2" cy="2580.0" r="10.4" stroke="none"/><circle cx="3213.2" cy="2586.0" r="10.4" stroke="none"/><circle cx="1017.8" cy="2509.0" r="10.4" stroke="none"/><circle cx="1017.8" cy="2515.2" r="10.4" stroke="none"/><circle cx="1017.8" cy="2521.3" r="10.4" stroke="none"/><circle cx="1017.8" cy="2527.5" r="10.4" stroke="none"/><circle cx="1017.8" cy="2533.7" r="10.4" stroke="none"/><circle cx="1017.8" cy="2539.8" r="10.4" stroke="none"/><circle cx="1017.8" cy="2546.0" r="10.4" stroke="none"/><circle cx="974.2" cy="2629.0" r="10.4" stroke="none"/><circle cx="974.2" cy="2637.0" r="10.4" stroke="none"/><circle cx="974.2" cy="2645.0" r="10.4" stroke="none"/><circle cx="858.4" cy="2688.0" r="10.4" stroke="none"/><circle cx="858.4" cy="2693.7" r="10.4" stroke="none"/><circle cx="858.4" cy="2699.3" r="10.4" stroke="none"/><circle cx="858.4" cy="2705.0" r="10.4" stroke="none"/><circle cx="1133.5" cy="2566.0" r="10.4" stroke="none"/><circle cx="1133.5" cy="2573.0" r="10.4" stroke="none"/><circle cx="1133.5" cy="2580.0" r="10.4" stroke="none"/></g>
<g stroke="#b3b3b3" stroke-width="12.7" fill="none"><line x1="1025.3" y1="945.5" x2="1025.3" y2="1105.6"/><line x1="1002.2" y1="945.5" x2="1050" y2="945.5"/><line x1="1002.2" y1="1105.6" x2="1050" y2="1105.6"/></g>
<g fill="#3c94b8" stroke="#000" stroke-width="5.8" shape-rendering="crispEdges"><rect x="821.9" y="367.0" width="38.0" height="38.0"/><rect x="844.0" y="348.0" width="38.0" height="38.0"/><rect x="867.0" y="386.2" width="38.0" height="38.0"/><rect x="890.0" y="393.9" width="38.0" height="38.0"/><rect x="913.0" y="378.7" width="38.0" height="38.0"/><rect x="1121.0" y="353.1" width="38.0" height="38.0"/><rect x="1143.7" y="364.9" width="38.0" height="38.0"/><rect x="1190.0" y="360.6" width="38.0" height="38.0"/><rect x="1351.9" y="382.1" width="38.0" height="38.0"/><rect x="1444.8" y="355.1" width="38.0" height="38.0"/><rect x="1721.9" y="370.0" width="38.0" height="38.0"/><rect x="1814.0" y="339.0" width="38.0" height="38.0"/></g>
<g fill="#86cfa5" stroke="#000" stroke-width="5.8" shape-rendering="crispEdges"><rect x="821.8" y="703.9" width="38.0" height="38.0"/><rect x="848.8" y="747.0" width="38.0" height="38.0"/><rect x="868.8" y="682.7" width="38.0" height="38.0"/><rect x="890.7" y="692.9" width="38.0" height="38.0"/><rect x="1122.8" y="695.3" width="38.0" height="38.0"/><rect x="1146.7" y="625.9" width="38.0" height="38.0"/><rect x="1193.8" y="660.8" width="38.0" height="38.0"/><rect x="1354.9" y="694.1" width="38.0" height="38.0"/><rect x="1792.7" y="716.0" width="38.0" height="38.0"/><rect x="1929.9" y="681.9" width="38.0" height="38.0"/><rect x="1998.9" y="653.7" width="38.0" height="38.0"/><rect x="2023.2" y="658.8" width="38.0" height="38.0"/><rect x="2045.9" y="671.7" width="38.0" height="38.0"/><rect x="2068.7" y="652.1" width="38.0" height="38.0"/><rect x="2184.7" y="691.7" width="38.0" height="38.0"/><rect x="2345.8" y="694.1" width="38.0" height="38.0"/><rect x="2368.9" y="672.9" width="38.0" height="38.0"/><rect x="2692.7" y="721.9" width="38.0" height="38.0"/><rect x="2924.8" y="666.6" width="38.0" height="38.0"/><rect x="2970.6" y="696.8" width="38.0" height="38.0"/></g>
<g fill="#d6ef9b" stroke="#000" stroke-width="5.8" shape-rendering="crispEdges"><rect x="1122.0" y="1006.2" width="38.0" height="38.0"/><rect x="1143.9" y="974.9" width="38.0" height="38.0"/><rect x="1191.0" y="995.3" width="38.0" height="38.0"/><rect x="1744.8" y="985.1" width="38.0" height="38.0"/><rect x="1791.9" y="1009.0" width="38.0" height="38.0"/></g>
<g fill="#ffffbf" stroke="#000" stroke-width="5.8" shape-rendering="crispEdges"><rect x="1148.0" y="1288.6" width="38.0" height="38.0"/><rect x="1195.1" y="1295.7" width="38.0" height="38.0"/><rect x="1356.2" y="1315.7" width="38.0" height="38.0"/><rect x="1796.0" y="1334.1" width="38.0" height="38.0"/><rect x="2023.7" y="1318.8" width="38.0" height="38.0"/><rect x="2070.8" y="1358.0" width="38.0" height="38.0"/><rect x="2162.9" y="1334.9" width="38.0" height="38.0"/><rect x="2253.8" y="1329.8" width="38.0" height="38.0"/><rect x="2350.6" y="1338.8" width="38.0" height="38.0"/><rect x="2373.0" y="1293.7" width="38.0" height="38.0"/><rect x="2647.8" y="1358.0" width="38.0" height="38.0"/><rect x="2669.7" y="1303.9" width="38.0" height="38.0"/><rect x="2925.7" y="1359.6" width="38.0" height="38.0"/><rect x="3088.0" y="1315.7" width="38.0" height="38.0"/><rect x="3249.9" y="1342.7" width="38.0" height="38.0"/></g>
<g fill="#fed380" stroke="#000" stroke-width="5.8" shape-rendering="crispEdges"><rect x="1817.8" y="1647.0" width="38.0" height="38.0"/><rect x="2000.9" y="1665.1" width="38.0" height="38.0"/><rect x="2256.1" y="1649.8" width="38.0" height="38.0"/><rect x="2371.7" y="1641.1" width="38.0" height="38.0"/><rect x="2673.1" y="1641.9" width="38.0" height="38.0"/><rect x="2695.1" y="1672.9" width="38.0" height="38.0"/><rect x="2971.8" y="1629.8" width="38.0" height="38.0"/><rect x="3085.9" y="1658.8" width="38.0" height="38.0"/><rect x="3248.9" y="1636.8" width="38.0" height="38.0"/></g>
<g fill="#f88b51" stroke="#000" stroke-width="5.8" shape-rendering="crispEdges"><rect x="853.1" y="1980.7" width="38.0" height="38.0"/><rect x="899.8" y="1997.2" width="38.0" height="38.0"/><rect x="1151.8" y="1928.6" width="38.0" height="38.0"/><rect x="1176.9" y="1960.0" width="38.0" height="38.0"/><rect x="1200.0" y="1954.9" width="38.0" height="38.0"/><rect x="1454.0" y="2020.7" width="38.0" height="38.0"/><rect x="1799.8" y="1939.6" width="38.0" height="38.0"/><rect x="1821.7" y="1906.7" width="38.0" height="38.0"/><rect x="1937.0" y="1963.9" width="38.0" height="38.0"/><rect x="2007.9" y="1927.8" width="38.0" height="38.0"/><rect x="2192.9" y="1987.0" width="38.0" height="38.0"/><rect x="2260.7" y="1968.6" width="38.0" height="38.0"/><rect x="2306.6" y="1993.7" width="38.0" height="38.0"/><rect x="2354.4" y="1998.8" width="38.0" height="38.0"/><rect x="2378.0" y="2001.9" width="38.0" height="38.0"/><rect x="2675.9" y="1972.9" width="38.0" height="38.0"/><rect x="2699.8" y="2007.0" width="38.0" height="38.0"/><rect x="2978.9" y="1968.6" width="38.0" height="38.0"/><rect x="3070.6" y="1929.8" width="38.0" height="38.0"/><rect x="3093.3" y="1923.9" width="38.0" height="38.0"/><rect x="3254.8" y="1965.9" width="38.0" height="38.0"/><rect x="3508.0" y="1911.0" width="38.0" height="38.0"/><rect x="3575.8" y="1936.8" width="38.0" height="38.0"/></g>
<g fill="#db474d" stroke="#000" stroke-width="5.8" shape-rendering="crispEdges"><rect x="829.6" y="2251.0" width="38.0" height="38.0"/><rect x="851.2" y="2220.8" width="38.0" height="38.0"/><rect x="875.9" y="2233.7" width="38.0" height="38.0"/><rect x="896.2" y="2222.0" width="38.0" height="38.0"/><rect x="919.8" y="2253.7" width="38.0" height="38.0"/><rect x="1149.9" y="2266.6" width="38.0" height="38.0"/><rect x="1174.9" y="2280.0" width="38.0" height="38.0"/><rect x="1196.9" y="2270.6" width="38.0" height="38.0"/><rect x="1450.1" y="2332.9" width="38.0" height="38.0"/><rect x="1797.8" y="2350.9" width="38.0" height="38.0"/><rect x="1820.9" y="2329.0" width="38.0" height="38.0"/><rect x="1933.0" y="2274.1" width="38.0" height="38.0"/><rect x="2005.2" y="2327.8" width="38.0" height="38.0"/><rect x="2076.1" y="2305.8" width="38.0" height="38.0"/><rect x="2191.8" y="2242.7" width="38.0" height="38.0"/><rect x="2260.0" y="2307.0" width="38.0" height="38.0"/><rect x="2285.0" y="2272.9" width="38.0" height="38.0"/><rect x="2352.1" y="2256.8" width="38.0" height="38.0"/><rect x="2374.8" y="2297.6" width="38.0" height="38.0"/><rect x="2417.1" y="2282.3" width="38.0" height="38.0"/><rect x="2440.7" y="2300.7" width="38.0" height="38.0"/><rect x="2512.0" y="2274.9" width="38.0" height="38.0"/><rect x="2579.0" y="2287.0" width="38.0" height="38.0"/><rect x="2671.1" y="2314.9" width="38.0" height="38.0"/><rect x="2697.8" y="2330.5" width="38.0" height="38.0"/><rect x="3069.0" y="2302.7" width="38.0" height="38.0"/><rect x="3089.0" y="2291.7" width="38.0" height="38.0"/><rect x="3250.8" y="2214.9" width="38.0" height="38.0"/><rect x="3689.1" y="2278.8" width="38.0" height="38.0"/><rect x="3756.9" y="2294.9" width="38.0" height="38.0"/><rect x="3849.8" y="2266.6" width="38.0" height="38.0"/></g>
<g fill="#ffd700" stroke="#000" stroke-width="5.8" shape-rendering="crispEdges"><rect x="628.0" y="2606.8" width="38.0" height="38.0"/><rect x="651.8" y="2618.8" width="38.0" height="38.0"/><rect x="675.1" y="2606.8" width="38.0" height="38.0"/><rect x="767.8" y="2559.8" width="38.0" height="38.0"/><rect x="813.8" y="2593.8" width="38.0" height="38.0"/><rect x="836.8" y="2640.8" width="38.0" height="38.0"/><rect x="859.8" y="2587.0" width="38.0" height="38.0"/><rect x="883.9" y="2622.0" width="38.0" height="38.0"/><rect x="952.9" y="2581.7" width="38.0" height="38.0"/><rect x="975.9" y="2561.9" width="38.0" height="38.0"/><rect x="997.8" y="2554.0" width="38.0" height="38.0"/><rect x="1022.9" y="2593.8" width="38.0" height="38.0"/><rect x="1115.0" y="2593.0" width="38.0" height="38.0"/><rect x="1138.0" y="2589.0" width="38.0" height="38.0"/><rect x="1161.0" y="2602.9" width="38.0" height="38.0"/><rect x="1184.0" y="2631.9" width="38.0" height="38.0"/><rect x="1205.9" y="2610.7" width="38.0" height="38.0"/><rect x="1230.0" y="2604.7" width="38.0" height="38.0"/><rect x="1253.0" y="2626.9" width="38.0" height="38.0"/><rect x="1277.0" y="2632.9" width="38.0" height="38.0"/><rect x="1300.0" y="2613.9" width="38.0" height="38.0"/><rect x="1323.0" y="2596.1" width="38.0" height="38.0"/><rect x="1346.0" y="2602.1" width="38.0" height="38.0"/><rect x="1369.0" y="2589.0" width="38.0" height="38.0"/><rect x="1461.0" y="2613.9" width="38.0" height="38.0"/><rect x="1532.0" y="2577.8" width="38.0" height="38.0"/><rect x="1553.0" y="2568.9" width="38.0" height="38.0"/><rect x="1624.0" y="2601.9" width="38.0" height="38.0"/><rect x="1737.8" y="2627.7" width="38.0" height="38.0"/><rect x="1762.1" y="2591.9" width="38.0" height="38.0"/><rect x="1785.9" y="2595.1" width="38.0" height="38.0"/><rect x="1876.8" y="2641.8" width="38.0" height="38.0"/><rect x="1922.8" y="2647.1" width="38.0" height="38.0"/><rect x="1992.8" y="2595.1" width="38.0" height="38.0"/><rect x="2014.8" y="2615.7" width="38.0" height="38.0"/><rect x="2037.8" y="2613.9" width="38.0" height="38.0"/><rect x="2061.8" y="2629.6" width="38.0" height="38.0"/><rect x="2084.8" y="2610.7" width="38.0" height="38.0"/><rect x="2131.9" y="2620.9" width="38.0" height="38.0"/><rect x="2157.0" y="2638.7" width="38.0" height="38.0"/><rect x="2201.2" y="2596.9" width="38.0" height="38.0"/><rect x="2269.7" y="2599.8" width="38.0" height="38.0"/><rect x="2292.9" y="2571.8" width="38.0" height="38.0"/><rect x="2315.9" y="2608.6" width="38.0" height="38.0"/><rect x="2363.0" y="2575.7" width="38.0" height="38.0"/><rect x="2386.0" y="2599.8" width="38.0" height="38.0"/><rect x="2433.0" y="2610.0" width="38.0" height="38.0"/><rect x="2479.0" y="2629.6" width="38.0" height="38.0"/><rect x="2500.9" y="2626.7" width="38.0" height="38.0"/><rect x="2523.9" y="2597.7" width="38.0" height="38.0"/><rect x="2546.9" y="2592.2" width="38.0" height="38.0"/><rect x="2571.0" y="2589.6" width="38.0" height="38.0"/><rect x="2594.0" y="2603.7" width="38.0" height="38.0"/><rect x="2615.9" y="2620.9" width="38.0" height="38.0"/><rect x="2641.0" y="2616.7" width="38.0" height="38.0"/><rect x="2665.1" y="2607.9" width="38.0" height="38.0"/><rect x="2686.1" y="2622.8" width="38.0" height="38.0"/><rect x="2709.0" y="2597.7" width="38.0" height="38.0"/><rect x="2847.8" y="2581.7" width="38.0" height="38.0"/><rect x="2963.8" y="2568.9" width="38.0" height="38.0"/><rect x="2986.0" y="2557.9" width="38.0" height="38.0"/><rect x="3032.0" y="2622.8" width="38.0" height="38.0"/><rect x="3054.8" y="2615.7" width="38.0" height="38.0"/><rect x="3078.8" y="2601.9" width="38.0" height="38.0"/><rect x="3101.8" y="2599.0" width="38.0" height="38.0"/><rect x="3124.8" y="2602.9" width="38.0" height="38.0"/><rect x="3148.9" y="2627.7" width="38.0" height="38.0"/><rect x="3171.9" y="2641.8" width="38.0" height="38.0"/><rect x="3193.9" y="2595.8" width="38.0" height="38.0"/><rect x="3216.1" y="2581.2" width="38.0" height="38.0"/></g>
<g><text transform="translate(1948.94 416.13) scale(0.7673 1)" font-size="93.27" fill="#000" stroke="#000" stroke-width="1.33">RMS </text><text transform="translate(2129.47 416.27) scale(0.8339 1)" font-size="93.66" fill="#000" stroke="#000" stroke-width="1.06">scatter, </text><text transform="translate(2406.15 416.27) scale(0.8076 1)" font-size="93.66" fill="#000" stroke="#000" stroke-width="1.06">daily </text><text transform="translate(2585.63 416.27) scale(0.8025 1)" font-size="93.66" fill="#000" stroke="#000" stroke-width="1.06">average: </text><text transform="translate(2899.63 416.31) scale(0.8414 1)" font-size="93.80" fill="#000" stroke="#000" stroke-width="0.97">0.49 </text><text transform="translate(3074.23 416.27) scale(0.8382 1)" font-size="93.66" fill="#000" stroke="#000" stroke-width="1.06">m </text><text transform="translate(3163.46 416.27) scale(0.7900 1)" font-size="93.66" fill="#000" stroke="#000" stroke-width="1.06">s</text><text transform="translate(3200.81 386.47) scale(1.0428 1)" font-size="63.95" fill="#000">−</text><text transform="translate(3237.63 380.70) scale(0.9516 1)" font-size="63.95" fill="#000" stroke="#000" stroke-width="0.6">1</text></g>
<g><text transform="translate(3106.58 730.62) scale(0.8232 1)" font-size="93.80" fill="#000" stroke="#000" stroke-width="0.97">0.84 </text><text transform="translate(3281.13 730.57) scale(0.8382 1)" font-size="93.66" fill="#000" stroke="#000" stroke-width="1.06">m </text><text transform="translate(3370.36 730.57) scale(0.7900 1)" font-size="93.66" fill="#000" stroke="#000" stroke-width="1.06">s</text><text transform="translate(3407.71 700.77) scale(1.0428 1)" font-size="63.95" fill="#000">−</text><text transform="translate(3444.53 695.00) scale(0.9516 1)" font-size="63.95" fill="#000" stroke="#000" stroke-width="0.6">1</text></g>
<g><text transform="translate(1927.74 1055.32) scale(0.8380 1)" font-size="93.80" fill="#000" stroke="#000" stroke-width="0.97">0.39 </text><text transform="translate(2103.23 1055.27) scale(0.8382 1)" font-size="93.66" fill="#000" stroke="#000" stroke-width="1.06">m </text><text transform="translate(2192.46 1055.27) scale(0.7900 1)" font-size="93.66" fill="#000" stroke="#000" stroke-width="1.06">s</text><text transform="translate(2229.81 1025.47) scale(1.0428 1)" font-size="63.95" fill="#000">−</text><text transform="translate(2266.63 1019.70) scale(0.9516 1)" font-size="63.95" fill="#000" stroke="#000" stroke-width="0.6">1</text><text transform="translate(2321.91 1055.27) scale(0.8133 1)" font-size="93.66" fill="#000" stroke="#000" stroke-width="1.06">(planet </text><text transform="translate(2574.79 1055.27) scale(0.8093 1)" font-size="93.66" fill="#000" stroke="#000" stroke-width="1.06">removed)</text></g>
<g><text transform="translate(705.17 1050.62) scale(0.8033 1)" font-size="93.80" fill="#333" stroke="#333" stroke-width="0.97">5 </text><text transform="translate(770.43 1050.57) scale(0.8382 1)" font-size="93.66" fill="#333" stroke="#333" stroke-width="1.06">m </text><text transform="translate(859.66 1050.57) scale(0.7900 1)" font-size="93.66" fill="#333" stroke="#333" stroke-width="1.06">s</text><text transform="translate(897.01 1020.77) scale(1.0428 1)" font-size="63.95" fill="#333">−</text><text transform="translate(933.83 1015.00) scale(0.9516 1)" font-size="63.95" fill="#333" stroke="#333" stroke-width="0.6">1</text></g>
<g><text transform="translate(3385.45 1370.72) scale(0.8348 1)" font-size="93.80" fill="#000" stroke="#000" stroke-width="0.97">0.72 </text><text transform="translate(3560.23 1370.67) scale(0.8382 1)" font-size="93.66" fill="#000" stroke="#000" stroke-width="1.06">m </text><text transform="translate(3649.46 1370.67) scale(0.7900 1)" font-size="93.66" fill="#000" stroke="#000" stroke-width="1.06">s</text><text transform="translate(3686.81 1340.87) scale(1.0428 1)" font-size="63.95" fill="#000">−</text><text transform="translate(3723.63 1335.10) scale(0.9516 1)" font-size="63.95" fill="#000" stroke="#000" stroke-width="0.6">1</text></g>
<g><text transform="translate(3384.83 1690.72) scale(0.8385 1)" font-size="93.80" fill="#000" stroke="#000" stroke-width="0.97">0.41 </text><text transform="translate(3559.23 1690.67) scale(0.8382 1)" font-size="93.66" fill="#000" stroke="#000" stroke-width="1.06">m </text><text transform="translate(3648.46 1690.67) scale(0.7900 1)" font-size="93.66" fill="#000" stroke="#000" stroke-width="1.06">s</text><text transform="translate(3685.81 1660.87) scale(1.0428 1)" font-size="63.95" fill="#000">−</text><text transform="translate(3722.63 1655.10) scale(0.9516 1)" font-size="63.95" fill="#000" stroke="#000" stroke-width="0.6">1</text></g>
<g><text transform="translate(3710.47 2010.72) scale(0.8469 1)" font-size="93.80" fill="#000" stroke="#000" stroke-width="0.97">1.0 </text><text transform="translate(3843.53 2010.67) scale(0.8382 1)" font-size="93.66" fill="#000" stroke="#000" stroke-width="1.06">m </text><text transform="translate(3932.76 2010.67) scale(0.7900 1)" font-size="93.66" fill="#000" stroke="#000" stroke-width="1.06">s</text><text transform="translate(3970.11 1980.87) scale(1.0428 1)" font-size="63.95" fill="#000">−</text><text transform="translate(4006.93 1975.10) scale(0.9516 1)" font-size="63.95" fill="#000" stroke="#000" stroke-width="0.6">1</text></g>
<g><text transform="translate(3983.97 2330.91) scale(0.8356 1)" font-size="93.80" fill="#000" stroke="#000" stroke-width="0.97">1.08 </text><text transform="translate(4160.13 2330.87) scale(0.8382 1)" font-size="93.66" fill="#000" stroke="#000" stroke-width="1.06">m </text><text transform="translate(4249.36 2330.87) scale(0.7900 1)" font-size="93.66" fill="#000" stroke="#000" stroke-width="1.06">s</text><text transform="translate(4286.71 2301.07) scale(1.0428 1)" font-size="63.95" fill="#000">−</text><text transform="translate(4323.53 2295.30) scale(0.9516 1)" font-size="63.95" fill="#000" stroke="#000" stroke-width="0.6">1</text></g>
<g><text transform="translate(3351.03 2649.71) scale(0.8405 1)" font-size="93.80" fill="#000" stroke="#000" stroke-width="0.97">0.67 </text><text transform="translate(3526.23 2649.67) scale(0.8382 1)" font-size="93.66" fill="#000" stroke="#000" stroke-width="1.06">m </text><text transform="translate(3615.46 2649.67) scale(0.7900 1)" font-size="93.66" fill="#000" stroke="#000" stroke-width="1.06">s</text><text transform="translate(3652.81 2619.87) scale(1.0428 1)" font-size="63.95" fill="#000">−</text><text transform="translate(3689.63 2614.10) scale(0.9516 1)" font-size="63.95" fill="#000" stroke="#000" stroke-width="0.6">1</text></g>
<g stroke="#000" stroke-width="13" fill="none"><line x1="618.08" y1="146.5" x2="618.08" y2="175.5"/><line x1="618.08" y1="2864.5" x2="618.08" y2="2835.5"/><line x1="1080.42" y1="146.5" x2="1080.42" y2="175.5"/><line x1="1080.42" y1="2864.5" x2="1080.42" y2="2835.5"/><line x1="1542.76" y1="146.5" x2="1542.76" y2="175.5"/><line x1="1542.76" y1="2864.5" x2="1542.76" y2="2835.5"/><line x1="2005.10" y1="146.5" x2="2005.10" y2="175.5"/><line x1="2005.10" y1="2864.5" x2="2005.10" y2="2835.5"/><line x1="2467.44" y1="146.5" x2="2467.44" y2="175.5"/><line x1="2467.44" y1="2864.5" x2="2467.44" y2="2835.5"/><line x1="2929.78" y1="146.5" x2="2929.78" y2="175.5"/><line x1="2929.78" y1="2864.5" x2="2929.78" y2="2835.5"/><line x1="3392.12" y1="146.5" x2="3392.12" y2="175.5"/><line x1="3392.12" y1="2864.5" x2="3392.12" y2="2835.5"/><line x1="3854.46" y1="146.5" x2="3854.46" y2="175.5"/><line x1="3854.46" y1="2864.5" x2="3854.46" y2="2835.5"/><line x1="4316.80" y1="146.5" x2="4316.80" y2="175.5"/><line x1="4316.80" y1="2864.5" x2="4316.80" y2="2835.5"/><line x1="502.5" y1="2624.40" x2="531.5" y2="2624.40"/><line x1="4455.5" y1="2624.40" x2="4426.5" y2="2624.40"/><line x1="502.5" y1="2304.56" x2="531.5" y2="2304.56"/><line x1="4455.5" y1="2304.56" x2="4426.5" y2="2304.56"/><line x1="502.5" y1="1984.72" x2="531.5" y2="1984.72"/><line x1="4455.5" y1="1984.72" x2="4426.5" y2="1984.72"/><line x1="502.5" y1="1664.88" x2="531.5" y2="1664.88"/><line x1="4455.5" y1="1664.88" x2="4426.5" y2="1664.88"/><line x1="502.5" y1="1345.04" x2="531.5" y2="1345.04"/><line x1="4455.5" y1="1345.04" x2="4426.5" y2="1345.04"/><line x1="502.5" y1="1025.20" x2="531.5" y2="1025.20"/><line x1="4455.5" y1="1025.20" x2="4426.5" y2="1025.20"/><line x1="502.5" y1="705.36" x2="531.5" y2="705.36"/><line x1="4455.5" y1="705.36" x2="4426.5" y2="705.36"/><line x1="502.5" y1="385.52" x2="531.5" y2="385.52"/><line x1="4455.5" y1="385.52" x2="4426.5" y2="385.52"/><rect x="502.5" y="146.5" width="3953.0" height="2718.0"/></g>
<text transform="translate(593.16 2970.15) scale(0.8556 1)" font-size="104.81" fill="#000" stroke="#000" stroke-width="1.09">0</text>
<text transform="translate(1028.99 2970.15) scale(0.8494 1)" font-size="104.81" fill="#000" stroke="#000" stroke-width="1.09">20</text>
<text transform="translate(1492.54 2970.15) scale(0.8365 1)" font-size="104.81" fill="#000" stroke="#000" stroke-width="1.09">40</text>
<text transform="translate(1954.12 2970.15) scale(0.8544 1)" font-size="104.81" fill="#000" stroke="#000" stroke-width="1.09">60</text>
<text transform="translate(2418.40 2970.15) scale(0.8484 1)" font-size="104.81" fill="#000" stroke="#000" stroke-width="1.09">80</text>
<text transform="translate(2851.79 2970.15) scale(0.8709 1)" font-size="104.81" fill="#000" stroke="#000" stroke-width="1.09">100</text>
<text transform="translate(3313.85 2970.15) scale(0.8752 1)" font-size="104.81" fill="#000" stroke="#000" stroke-width="1.09">120</text>
<text transform="translate(3775.95 2970.15) scale(0.8752 1)" font-size="104.81" fill="#000" stroke="#000" stroke-width="1.09">140</text>
<text transform="translate(4238.05 2970.15) scale(0.8752 1)" font-size="104.81" fill="#000" stroke="#000" stroke-width="1.09">160</text>
<g><text transform="translate(320.84 2660.75) scale(0.7837 1)" font-size="105.38" fill="#000" stroke="#000" stroke-width="1.5">Sun</text></g>
<g><text transform="translate(80.18 2340.91) scale(0.7378 1)" font-size="105.38" fill="#000" stroke="#000" stroke-width="1.5">HD </text><text transform="translate(219.05 2341.11) scale(0.8596 1)" font-size="104.81" fill="#000" stroke="#000" stroke-width="1.09">89269</text></g>
<g><text transform="translate(29.98 2021.07) scale(0.7371 1)" font-size="105.38" fill="#000" stroke="#000" stroke-width="1.5">HD </text><text transform="translate(167.40 2021.28) scale(0.8597 1)" font-size="104.81" fill="#000" stroke="#000" stroke-width="1.09">127334</text></g>
<g><text transform="translate(80.18 1701.23) scale(0.7378 1)" font-size="105.38" fill="#000" stroke="#000" stroke-width="1.5">HD </text><text transform="translate(219.55 1701.43) scale(0.8567 1)" font-size="104.81" fill="#000" stroke="#000" stroke-width="1.09">37008</text></g>
<g><text transform="translate(80.18 1381.39) scale(0.7378 1)" font-size="105.38" fill="#000" stroke="#000" stroke-width="1.5">HD </text><text transform="translate(219.37 1381.60) scale(0.8568 1)" font-size="104.81" fill="#000" stroke="#000" stroke-width="1.09">55575</text></g>
<g><text transform="translate(129.61 1061.55) scale(0.7463 1)" font-size="105.38" fill="#000" stroke="#000" stroke-width="1.5">HD </text><text transform="translate(269.42 1061.76) scale(0.8637 1)" font-size="104.81" fill="#000" stroke="#000" stroke-width="1.09">3651</text></g>
<g><text transform="translate(129.61 741.71) scale(0.7463 1)" font-size="105.38" fill="#000" stroke="#000" stroke-width="1.5">HD </text><text transform="translate(268.63 741.92) scale(0.8631 1)" font-size="104.81" fill="#000" stroke="#000" stroke-width="1.09">9407</text></g>
<g><text transform="translate(79.89 421.87) scale(0.7356 1)" font-size="105.38" fill="#000" stroke="#000" stroke-width="1.5">HD </text><text transform="translate(217.79 422.08) scale(0.8611 1)" font-size="104.81" fill="#000" stroke="#000" stroke-width="1.09">10700</text></g>
<g><text transform="translate(2045.00 3080.15) scale(0.7767 1)" font-size="105.38" fill="#000" stroke="#000" stroke-width="1.5">JD </text><text transform="translate(2173.07 3080.35) scale(0.9455 1)" font-size="105.96" fill="#000" stroke="#000" stroke-width="1.1">- </text><text transform="translate(2232.96 3080.36) scale(0.8545 1)" font-size="104.81" fill="#000" stroke="#000" stroke-width="1.09">2459194.0 </text><text transform="translate(2681.91 3080.30) scale(0.7870 1)" font-size="105.82" fill="#000" stroke="#000" stroke-width="1.2">(days)</text></g>
<g><text transform="translate(1661.34 121.30) scale(0.7204 1)" font-size="128.20" fill="#000" stroke="#000" stroke-width="2.0">NEID </text><text transform="translate(1914.35 121.30) scale(0.6881 1)" font-size="128.20" fill="#000" stroke="#000" stroke-width="2.0">RV </text><text transform="translate(2067.52 121.30) scale(0.8091 1)" font-size="128.20" fill="#000" stroke="#000" stroke-width="2.0">standard </text><text transform="translate(2502.19 121.30) scale(0.8233 1)" font-size="128.20" fill="#000" stroke="#000" stroke-width="2.0">star </text><text transform="translate(2708.48 121.30) scale(0.8153 1)" font-size="128.20" fill="#000" stroke="#000" stroke-width="2.0">performance</text></g>
</svg></body></html>
